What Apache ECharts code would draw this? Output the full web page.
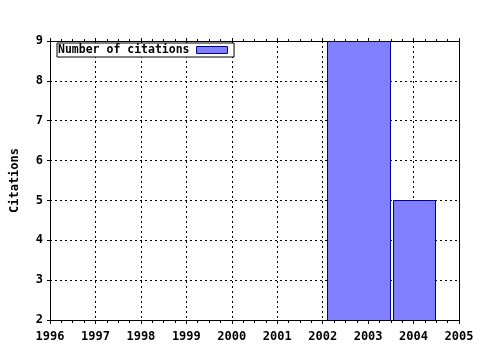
<!DOCTYPE html>
<html>
<head>
<meta charset="utf-8">
<script src="https://cdn.jsdelivr.net/npm/echarts@6/dist/echarts.min.js"></script>
<style>html,body{margin:0;padding:0;background:#fff}#c{width:480px;height:350px}</style>
</head>
<body>
<div id="c"></div>
<script>
// Data
const seriesName = 'Number of citations';
const barStarts = [2002.09, 2003.55];
const barEnds = [2003.47, 2004.47];
const barValues = [9, 5];
const xMin = 1996, xMax = 2005, xInterval = 1;
const yMin = 2, yMax = 9, yInterval = 1;
const yTitle = 'Citations';

const FONT = 'DejaVu Sans Mono';
const data = barStarts.map((s, i) => [s, barEnds[i], barValues[i]]);
const dash = { color: '#000', width: 1, type: [2, 3] };
const lbl = { color: '#000', fontFamily: FONT, fontWeight: 'bold', fontSize: 12 };

const chart = echarts.init(document.getElementById('c'));
chart.setOption({
  animation: false,
  backgroundColor: '#fff',
  grid: { left: 50, right: 21, top: 41, bottom: 30, containLabel: false, outerBoundsMode: 'none' },
  legend: {
    data: [seriesName],
    left: 57, top: 43,
    align: 'right',
    icon: 'rect',
    itemWidth: 31, itemHeight: 7,
    padding: [1, 6, 1, 1],
    borderColor: '#000', borderWidth: 1,
    backgroundColor: '#fff',
    textStyle: { color: '#000', fontFamily: FONT, fontWeight: 'bold', fontSize: 11.5, padding: [0, 2, 0, 0] },
    itemStyle: { color: '#8080ff', borderColor: '#000090', borderWidth: 1 }
  },
  xAxis: [{
    type: 'value', min: xMin, max: xMax, interval: xInterval, position: 'bottom',
    axisLine: { show: true, lineStyle: { color: '#000', width: 1 } },
    axisTick: { show: true, inside: false, length: 4, lineStyle: { color: '#000' } },
    minorTick: { show: true, splitNumber: 4, length: 3, lineStyle: { color: '#000' } },
    axisLabel: Object.assign({ margin: 11, formatter: v => String(v) }, lbl),
    splitLine: { show: true, lineStyle: dash }
  }, {
    type: 'value', min: xMin, max: xMax, interval: xInterval, position: 'top',
    axisLine: { show: true, lineStyle: { color: '#000', width: 1 } },
    axisTick: { show: true, inside: false, length: 3, lineStyle: { color: '#000' } },
    minorTick: { show: true, splitNumber: 4, length: 2, lineStyle: { color: '#000' } },
    axisLabel: { show: false },
    splitLine: { show: false }
  }],
  yAxis: [{
    type: 'value', min: yMin, max: yMax, interval: yInterval, position: 'left',
    name: yTitle, nameLocation: 'middle', nameGap: 29, nameRotate: 90,
    nameTextStyle: lbl,
    axisLine: { show: true, lineStyle: { color: '#000', width: 1 } },
    axisTick: { show: true, inside: false, length: 3, lineStyle: { color: '#000' } },
    axisLabel: Object.assign({ margin: 7 }, lbl),
    splitLine: { show: true, lineStyle: dash }
  }, {
    type: 'value', min: yMin, max: yMax, interval: yInterval, position: 'right',
    axisLine: { show: true, lineStyle: { color: '#000', width: 1 } },
    axisTick: { show: false },
    axisLabel: { show: false },
    splitLine: { show: false }
  }],
  series: [{
    type: 'custom',
    name: seriesName,
    xAxisIndex: 0, yAxisIndex: 0,
    clip: true,
    z: 3,
    itemStyle: { color: '#8080ff', borderColor: '#000090', borderWidth: 1 },
    encode: { x: [0, 1], y: 2 },
    data: data,
    renderItem: function (params, api) {
      const p0 = api.coord([api.value(0), yMin]);
      const p1 = api.coord([api.value(1), api.value(2)]);
      return {
        type: 'rect',
        shape: { x: Math.round(p0[0]) + 0.5, y: Math.round(p1[1]) + 0.5, width: Math.round(p1[0] - p0[0]), height: Math.round(p0[1] - p1[1]) },
        style: { fill: '#8080ff', stroke: '#000090', lineWidth: 1 }
      };
    }
  }]
});
</script>
</body>
</html>
